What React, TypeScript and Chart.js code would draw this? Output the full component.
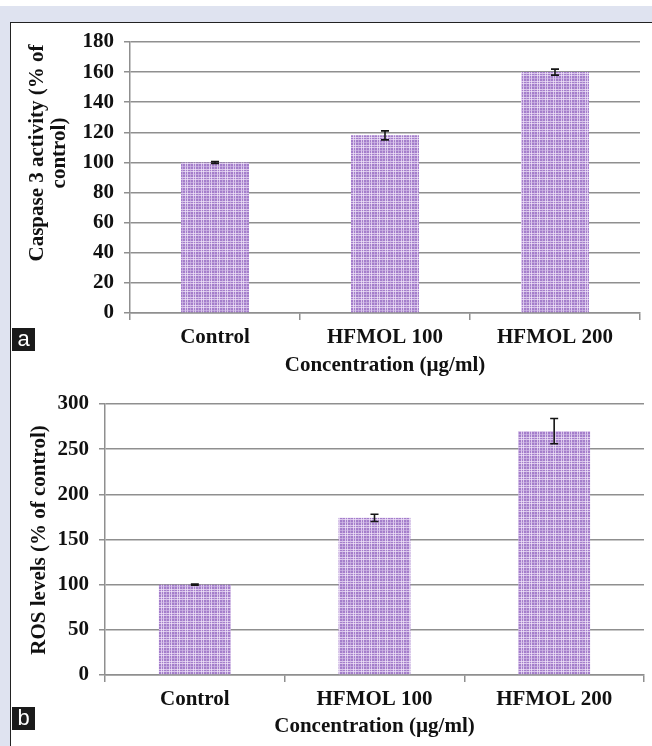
import React, { useEffect, useRef } from 'react';
import { Chart, registerables } from 'chart.js';

Chart.register(...registerables);

// ---------- data ----------
const categories = ['Control', 'HFMOL 100', 'HFMOL 200'];

const caspaseValues = [100, 118, 160];
const caspaseErrors = [0.6, 3, 2];
const caspaseTickRange = [0, 180, 20]; // min, max, step
const caspaseTitle = ['Caspase 3 activity (% of', 'control)'];

const rosValues = [100, 174, 270];
const rosErrors = [0.6, 4, 14];
const rosTickRange = [0, 300, 50];
const rosTitle = ['ROS levels (% of control)'];

const xTitle = 'Concentration (µg/ml)';

// ---------- styles ----------
const SERIF = "'Liberation Serif', 'Times New Roman', serif";
const GRID = '#8f8f8f';
const TEXT = '#111111';

function makePattern(): CanvasPattern | string {
  const c = document.createElement('canvas');
  c.width = 8;
  c.height = 8;
  const g = c.getContext('2d');
  if (!g) return '#b594d4';
  g.fillStyle = '#a47ecb';
  g.fillRect(0, 0, 8, 8);
  g.fillStyle = 'rgba(242,232,250,0.7)';
  g.fillRect(1, 0, 1, 8);
  g.fillRect(3, 0, 1, 8);
  g.fillRect(0, 1, 8, 1);
  g.fillRect(0, 3, 8, 1);
  g.fillStyle = 'rgba(215,195,235,0.55)';
  g.fillRect(6, 0, 1, 8);
  g.fillRect(0, 6, 8, 1);
  const p = g.createPattern(c, 'repeat');
  return p || '#b594d4';
}

function errorBarPlugin(errors: number[]) {
  return {
    id: 'errorBars',
    afterDatasetsDraw(chart: any) {
      const meta = chart.getDatasetMeta(0);
      const y = chart.scales.y;
      const data = chart.data.datasets[0].data as number[];
      const ctx = chart.ctx;
      ctx.save();
      ctx.strokeStyle = '#151515';
      ctx.lineWidth = 1.6;
      meta.data.forEach((bar: any, i: number) => {
        const v = data[i];
        const e = errors[i];
        const top = y.getPixelForValue(v + e);
        const bot = y.getPixelForValue(v - e);
        const x = bar.x;
        const cap = 4;
        ctx.beginPath();
        ctx.moveTo(x, top);
        ctx.lineTo(x, bot);
        ctx.moveTo(x - cap, top);
        ctx.lineTo(x + cap, top);
        ctx.moveTo(x - cap, bot);
        ctx.lineTo(x + cap, bot);
        ctx.stroke();
      });
      ctx.restore();
    },
  };
}

function yTitlePlugin(lines: string[], x0: number, lineGap: number, cy: number) {
  return {
    id: 'yTitle',
    afterDraw(chart: any) {
      const ctx = chart.ctx;
      ctx.save();
      ctx.translate(x0, cy);
      ctx.rotate(-Math.PI / 2);
      ctx.font = `bold 21px ${SERIF}`;
      ctx.fillStyle = TEXT;
      ctx.textAlign = 'center';
      ctx.textBaseline = 'middle';
      lines.forEach((l, i) => ctx.fillText(l, 0, i * lineGap));
      ctx.restore();
    },
  };
}

interface PanelProps {
  values: number[];
  errors: number[];
  range: number[];
  yLines: string[];
  width: number;
  height: number;
  plotLeft: number;
  plotRight: number;
  plotTop: number;
  plotBottom: number;
  titleX: number;
  titleGap: number;
  titleCY: number;
  xTitlePadBottom: number;
}

function BarPanel(props: PanelProps) {
  const ref = useRef<HTMLCanvasElement | null>(null);
  useEffect(() => {
    if (!ref.current) return;
    const font = { family: SERIF, size: 21, weight: 'bold' as const };
    const chart = new Chart(ref.current, {
      type: 'bar',
      data: {
        labels: categories,
        datasets: [
          {
            data: props.values,
            backgroundColor: makePattern() as any,
            borderWidth: 0,
            barPercentage: 0.4,
            categoryPercentage: 1,
          },
        ],
      },
      options: {
        animation: false,
        responsive: false,
        events: [],
        layout: {
          padding: {
            left: 0,
            top: props.plotTop,
            right: props.width - props.plotRight,
            bottom: 0,
          },
        },
        plugins: { legend: { display: false }, tooltip: { enabled: false } },
        scales: {
          x: {
            grid: {
              offset: true,
              drawOnChartArea: false,
              drawTicks: true,
              tickLength: 7,
              color: GRID,
              lineWidth: 1.5,
            },
            border: { display: true, color: GRID, width: 1.5 },
            ticks: { font, color: TEXT, padding: 5, maxRotation: 0, autoSkip: false },
            title: {
              display: true,
              text: xTitle,
              font,
              color: TEXT,
              padding: { top: 0, bottom: props.xTitlePadBottom },
            },
            afterFit(s: any) {
              s.height = props.height - props.plotBottom;
            },
          },
          y: {
            min: props.range[0],
            max: props.range[1],
            ticks: { stepSize: props.range[2], font, color: TEXT, padding: 10 },
            grid: { color: GRID, lineWidth: 1.5, tickLength: 6, drawTicks: true },
            border: { display: true, color: GRID, width: 1.5 },
            afterFit(s: any) {
              s.width = props.plotLeft;
            },
          },
        },
      },
      plugins: [
        errorBarPlugin(props.errors),
        yTitlePlugin(props.yLines, props.titleX, props.titleGap, props.titleCY),
      ],
    });
    return () => chart.destroy();
  }, []);
  return (
    <canvas
      ref={ref}
      width={props.width}
      height={props.height}
      style={{ display: 'block', width: props.width, height: props.height }}
    />
  );
}

function Tag({ text, top }: { text: string; top: number }) {
  return (
    <div
      style={{
        position: 'absolute',
        left: 12,
        top,
        width: 23,
        height: 23,
        background: '#1a1a1a',
        color: '#ffffff',
        fontFamily: "'Liberation Sans', Arial, sans-serif",
        fontSize: 22,
        lineHeight: '21px',
        textAlign: 'center',
      }}
    >
      {text}
    </div>
  );
}

export default function App() {
  return (
    <div
      style={{
        position: 'fixed',
        left: 0,
        top: 0,
        width: 652,
        height: 746,
        background: '#dfe3f0',
        overflow: 'hidden',
      }}
    >
      <div style={{ position: 'absolute', left: 0, top: 0, width: 652, height: 6, background: '#ffffff' }} />
      <div
        style={{
          position: 'absolute',
          left: 10,
          top: 22,
          right: 0,
          bottom: 0,
          background: '#ffffff',
          borderLeft: '1.5px solid #222',
          borderTop: '1.5px solid #222',
        }}
      />
      <div style={{ position: 'absolute', left: 0, top: 0 }}>
        <BarPanel
          values={caspaseValues}
          errors={caspaseErrors}
          range={caspaseTickRange}
          yLines={caspaseTitle}
          width={652}
          height={380}
          plotLeft={130}
          plotRight={640}
          plotTop={42}
          plotBottom={313}
          titleX={38}
          titleGap={22}
          titleCY={153}
          xTitlePadBottom={2}
        />
      </div>
      <div style={{ position: 'absolute', left: 0, top: 380 }}>
        <BarPanel
          values={rosValues}
          errors={rosErrors}
          range={rosTickRange}
          yLines={rosTitle}
          width={652}
          height={366}
          plotLeft={105}
          plotRight={644}
          plotTop={24}
          plotBottom={295}
          titleX={40}
          titleGap={22}
          titleCY={160}
          xTitlePadBottom={7}
        />
      </div>
      <Tag text="a" top={328} />
      <Tag text="b" top={707} />
    </div>
  );
}
